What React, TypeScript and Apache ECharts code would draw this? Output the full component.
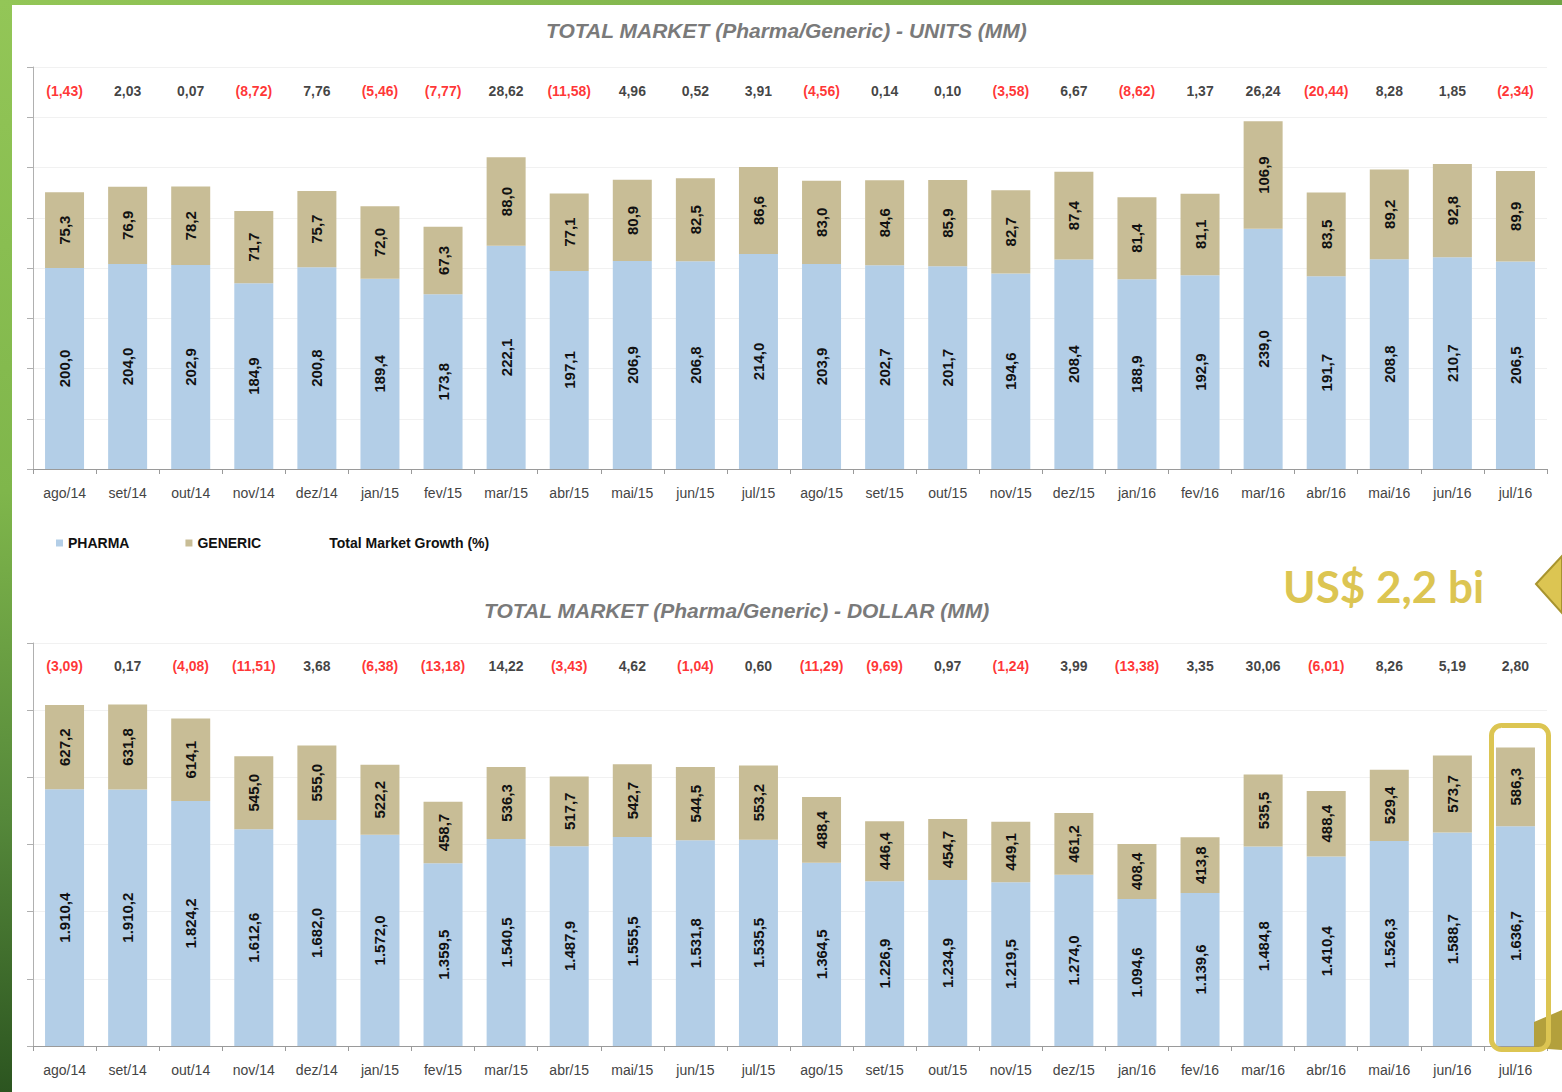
import React, { useEffect, useRef } from "react";
import * as echarts from "echarts";

const categories = [
  "ago/14", "set/14", "out/14", "nov/14", "dez/14", "jan/15", "fev/15", "mar/15",
  "abr/15", "mai/15", "jun/15", "jul/15", "ago/15", "set/15", "out/15", "nov/15",
  "dez/15", "jan/16", "fev/16", "mar/16", "abr/16", "mai/16", "jun/16", "jul/16",
];

const unitsPharma = [
  200.0, 204.0, 202.9, 184.9, 200.8, 189.4, 173.8, 222.1, 197.1, 206.9, 206.8, 214.0,
  203.9, 202.7, 201.7, 194.6, 208.4, 188.9, 192.9, 239.0, 191.7, 208.8, 210.7, 206.5,
];
const unitsGeneric = [
  75.3, 76.9, 78.2, 71.7, 75.7, 72.0, 67.3, 88.0, 77.1, 80.9, 82.5, 86.6,
  83.0, 84.6, 85.9, 82.7, 87.4, 81.4, 81.1, 106.9, 83.5, 89.2, 92.8, 89.9,
];
const unitsGrowth = [
  -1.43, 2.03, 0.07, -8.72, 7.76, -5.46, -7.77, 28.62, -11.58, 4.96, 0.52, 3.91,
  -4.56, 0.14, 0.1, -3.58, 6.67, -8.62, 1.37, 26.24, -20.44, 8.28, 1.85, -2.34,
];

const dollarPharma = [
  1910.4, 1910.2, 1824.2, 1612.6, 1682.0, 1572.0, 1359.5, 1540.5, 1487.9, 1555.5, 1531.8, 1535.5,
  1364.5, 1226.9, 1234.9, 1219.5, 1274.0, 1094.6, 1139.6, 1484.8, 1410.4, 1526.3, 1588.7, 1636.7,
];
const dollarGeneric = [
  627.2, 631.8, 614.1, 545.0, 555.0, 522.2, 458.7, 536.3, 517.7, 542.7, 544.5, 553.2,
  488.4, 446.4, 454.7, 449.1, 461.2, 408.4, 413.8, 535.5, 488.4, 529.4, 573.7, 586.3,
];
const dollarGrowth = [
  -3.09, 0.17, -4.08, -11.51, 3.68, -6.38, -13.18, 14.22, -3.43, 4.62, -1.04, 0.6,
  -11.29, -9.69, 0.97, -1.24, 3.99, -13.38, 3.35, 30.06, -6.01, 8.26, 5.19, 2.8,
];

const unitsAxis = { max: 400, interval: 50, growthRow: 376 };
const dollarAxis = { max: 3000, interval: 500, growthRow: 2830 };

const FONT = "'Liberation Sans', Arial, Helvetica, sans-serif";
const BLUE = "#b3cee7";
const TAN = "#c8bd96";
const GOLD = "#dcc552";

function fmt(v: number, d: number): string {
  const s = Math.abs(v).toFixed(d);
  const [i, f] = s.split(".");
  const ii = i.replace(/\B(?=(\d{3})+(?!\d))/g, ".");
  return ii + "," + f;
}

function growthText(g: number): string {
  return g < 0 ? `(${fmt(g, 2)})` : fmt(g, 2);
}

function barSeries(name: string, data: number[], idx: number, color: string) {
  return {
    name,
    type: "bar",
    stack: "s" + idx,
    xAxisIndex: idx,
    yAxisIndex: idx,
    barWidth: 39,
    data,
    itemStyle: { color },
    label: {
      show: true,
      position: "inside",
      rotate: 90,
      fontFamily: FONT,
      fontSize: 15,
      fontWeight: "bold",
      color: "#111",
      formatter: (p: any) => fmt(p.value, 1),
    },
  };
}

function growthSeries(growth: number[], idx: number, row: number) {
  return {
    name: "Total Market Growth (%)",
    type: "scatter",
    xAxisIndex: idx,
    yAxisIndex: idx,
    symbolSize: 1,
    itemStyle: { color: "rgba(0,0,0,0)" },
    data: growth.map((g) => ({
      value: row,
      label: { color: g < 0 ? "#ff0000" : "#111" },
    })),
    label: {
      show: true,
      position: "inside",
      fontFamily: FONT,
      fontSize: 14,
      fontWeight: "bold",
      formatter: (p: any) => growthText(growth[p.dataIndex]),
    },
  };
}

function xAxis(idx: number) {
  return {
    type: "category",
    gridIndex: idx,
    data: categories,
    axisLine: { lineStyle: { color: "#9a9a9a" } },
    axisTick: { show: true, length: 5, lineStyle: { color: "#9a9a9a" } },
    axisLabel: { fontFamily: FONT, fontSize: 14, color: "#444", margin: 17 },
  };
}

function yAxis(idx: number, ax: { max: number; interval: number }) {
  return {
    type: "value",
    gridIndex: idx,
    min: 0,
    max: ax.max,
    interval: ax.interval,
    axisLine: { show: true, lineStyle: { color: "#b0b0b0" } },
    axisTick: { show: true, length: 6, lineStyle: { color: "#b0b0b0" } },
    axisLabel: { show: false },
    splitLine: { show: true, lineStyle: { color: "#f1f1f1" } },
  };
}

export default function App() {
  const ref = useRef<HTMLDivElement>(null);
  useEffect(() => {
    if (!ref.current) return;
    const chart = echarts.init(ref.current, undefined, { renderer: "svg" });
    chart.setOption({
      animation: false,
      backgroundColor: "#ffffff",
      textStyle: { fontFamily: FONT },
      title: [
        {
          text: "TOTAL MARKET (Pharma/Generic) - UNITS (MM)",
          left: 541,
          top: 15,
          textStyle: { fontFamily: FONT, fontSize: 21, fontWeight: "bold", fontStyle: "italic", color: "#7a7a7a" },
        },
        {
          text: "TOTAL MARKET (Pharma/Generic) - DOLLAR (MM)",
          left: 479,
          top: 595,
          textStyle: { fontFamily: FONT, fontSize: 21, fontWeight: "bold", fontStyle: "italic", color: "#7a7a7a" },
        },
      ],
      legend: {
        left: 51,
        top: 531,
        itemWidth: 7,
        itemHeight: 7,
        itemGap: 56,
        icon: "rect",
        textStyle: { fontFamily: FONT, fontSize: 14, fontWeight: "bold", color: "#111" },
        data: [
          { name: "PHARMA" },
          { name: "GENERIC" },
          { name: "Total Market Growth (%)", itemStyle: { opacity: 0 } },
        ],
      },
      grid: [
        { left: 33, right: 15, top: 67, height: 402 },
        { left: 33, right: 15, top: 643, height: 403 },
      ],
      xAxis: [xAxis(0), xAxis(1)],
      yAxis: [yAxis(0, unitsAxis), yAxis(1, dollarAxis)],
      series: [
        barSeries("PHARMA", unitsPharma, 0, BLUE),
        barSeries("GENERIC", unitsGeneric, 0, TAN),
        growthSeries(unitsGrowth, 0, unitsAxis.growthRow),
        barSeries("PHARMA", dollarPharma, 1, BLUE),
        barSeries("GENERIC", dollarGeneric, 1, TAN),
        growthSeries(dollarGrowth, 1, dollarAxis.growthRow),
      ],
      graphic: [
        {
          type: "rect",
          z: 100,
          shape: { x: 0, y: 0, width: 12, height: 1092 },
          style: {
            fill: new echarts.graphic.LinearGradient(0, 0, 0, 1, [
              { offset: 0, color: "#93c657" },
              { offset: 0.45, color: "#7fb64b" },
              { offset: 0.75, color: "#55883a" },
              { offset: 1, color: "#2c5520" },
            ]),
          },
        },
        {
          type: "rect",
          z: 100,
          shape: { x: 0, y: 0, width: 1562, height: 5 },
          style: {
            fill: new echarts.graphic.LinearGradient(0, 0, 1, 0, [
              { offset: 0, color: "#93c657" },
              { offset: 1, color: "#6fa444" },
            ]),
          },
        },
        {
          type: "text",
          z: 100,
          left: 1283,
          top: 564,
          style: {
            text: "US$ 2,2 bi",
            fontFamily: "Lato, 'Noto Sans', sans-serif",
            fontSize: 44,
            fontWeight: "bold",
            fill: GOLD,
          },
        },
        {
          type: "polygon",
          z: 100,
          shape: { points: [[1536, 584], [1562, 556], [1562, 613]] },
          style: { fill: GOLD, stroke: "#a8942f", lineWidth: 2 },
        },
        {
          type: "polygon",
          z: 100,
          shape: { points: [[1534, 1022], [1562, 1010], [1562, 1050], [1534, 1048]] },
          style: { fill: "#b3a03c" },
        },
        {
          type: "rect",
          z: 101,
          shape: { x: 1491.5, y: 725.5, width: 57, height: 324, r: 10 },
          style: { fill: "none", stroke: GOLD, lineWidth: 5 },
        },
      ],
    });
    return () => chart.dispose();
  }, []);
  return (
    <div
      ref={ref}
      style={{ position: "fixed", left: 0, top: 0, width: 1562, height: 1092 }}
    />
  );
}
